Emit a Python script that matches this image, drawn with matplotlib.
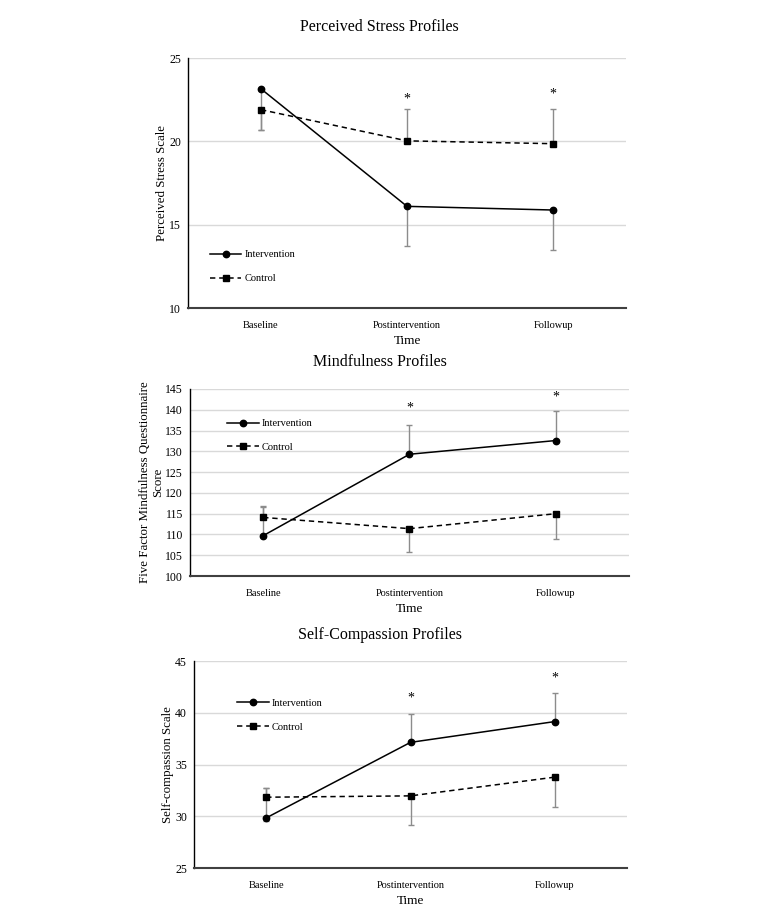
import matplotlib.pyplot as plt
import numpy as np

plt.rcParams['font.family'] = ['Liberation Serif', 'DejaVu Serif']

# ---- data ----
time_labels = ["Baseline", "Postintervention", "Followup"]

stress_int = [23.15, 16.1, 15.88]
stress_ctl = [21.9, 20.03, 19.86]
stress_int_lo = [2.45, 2.38, 2.4]
stress_int_hi = [0, 0, 0]
stress_ctl_lo = [1.2, 0, 0]
stress_ctl_hi = [0, 1.9, 2.08]

mind_int = [109.7, 129.3, 132.6]
mind_ctl = [114.1, 111.4, 115.0]
mind_int_lo = [0, 0, 0]
mind_int_hi = [7.1, 7.1, 7.0]
mind_ctl_lo = [0, 5.7, 6.2]
mind_ctl_hi = [2.6, 0, 0]

comp_int = [29.84, 37.14, 39.15]
comp_ctl = [31.84, 31.97, 33.78]
comp_int_lo = [0.3, 0, 0]
comp_int_hi = [2.85, 2.7, 2.8]
comp_ctl_lo = [0, 2.8, 2.85]
comp_ctl_hi = [0.85, 0, 0]

stress_stars = [None, 22.55, 22.85]
mind_stars = [None, 140.4, 143.0]
comp_stars = [None, 41.4, 43.4]


def draw_panel(fig, rect, title, title_y, ylabel, ylim, ystep,
               y_int, int_lo, int_hi, y_ctl, ctl_lo, ctl_hi, stars, leg_xy):
    ax = fig.add_axes(rect)
    x = np.arange(len(time_labels))

    err_kw = dict(fmt="none", ecolor="#8c8c8c", elinewidth=1.0,
                  capsize=2.5, capthick=1.0, zorder=2)
    ax.errorbar(x, y_int, yerr=[int_lo, int_hi], **err_kw)
    ax.errorbar(x, y_ctl, yerr=[ctl_lo, ctl_hi], **err_kw)

    ax.plot(x, y_int, color="black", lw=1.1, marker="o", markersize=4.6,
            label="Intervention", zorder=3)
    ax.plot(x, y_ctl, color="black", lw=1.1, ls=(0, (3.5, 2.5)), marker="s",
            markersize=4.6, label="Control", zorder=3)

    for xi, s in zip(x, stars):
        if s is not None:
            ax.text(xi, s, "*", ha="center", va="center", fontsize=10)

    ax.set_xlim(-0.5, 2.5)
    ax.set_ylim(*ylim)
    ax.set_yticks(np.arange(ylim[0], ylim[1] + 0.1, ystep))
    ax.set_xticks(x)
    ax.set_xticklabels(time_labels)
    ax.yaxis.grid(True, color="#d9d9d9", lw=1.0)
    ax.set_axisbelow(True)
    ax.tick_params(axis="x", length=0, labelsize=7.5, pad=9)
    ax.tick_params(axis="y", length=0, labelsize=8.5, pad=5)

    for side in ["top", "right"]:
        ax.spines[side].set_visible(False)
    ax.spines["left"].set_color("black")
    ax.spines["left"].set_linewidth(1.0)
    ax.spines["bottom"].set_color("#404040")
    ax.spines["bottom"].set_linewidth(1.5)

    ax.set_xlabel("Time", fontsize=9.5, labelpad=4)
    ax.set_ylabel(ylabel, fontsize=9.3, labelpad=0.5)

    ax.legend(loc="upper left", bbox_to_anchor=leg_xy, frameon=False,
              fontsize=7.5, handlelength=3.0, handletextpad=0.3,
              labelspacing=1.4, borderpad=0, borderaxespad=0)

    fig.text(0.5, title_y, title, ha="center", va="center", fontsize=11.5)
    return ax


fig = plt.figure(figsize=(7.59, 9.11), dpi=100)

draw_panel(fig, [0.2477, 0.6619, 0.5771, 0.2744], "Perceived Stress Profiles",
           1 - 27 / 911, "Perceived Stress Scale", (10, 25), 5,
           stress_int, stress_int_lo, stress_int_hi,
           stress_ctl, stress_ctl_lo, stress_ctl_hi, stress_stars, (0.05, 0.232))

draw_panel(fig, [0.2503, 0.3677, 0.5784, 0.2053], "Mindfulness Profiles",
           1 - 362 / 911, "Five Factor Mindfulness Questionnaire\nScore",
           (100, 145), 5,
           mind_int, mind_int_lo, mind_int_hi,
           mind_ctl, mind_ctl_lo, mind_ctl_hi, mind_stars, (0.085, 0.84))

draw_panel(fig, [0.2556, 0.0472, 0.5705, 0.2272], "Self-Compassion Profiles",
           1 - 635 / 911, "Self-compassion Scale", (25, 45), 5,
           comp_int, comp_int_lo, comp_int_hi,
           comp_ctl, comp_ctl_lo, comp_ctl_hi, comp_stars, (0.1, 0.818))

fig.savefig("out.png", dpi=100)
